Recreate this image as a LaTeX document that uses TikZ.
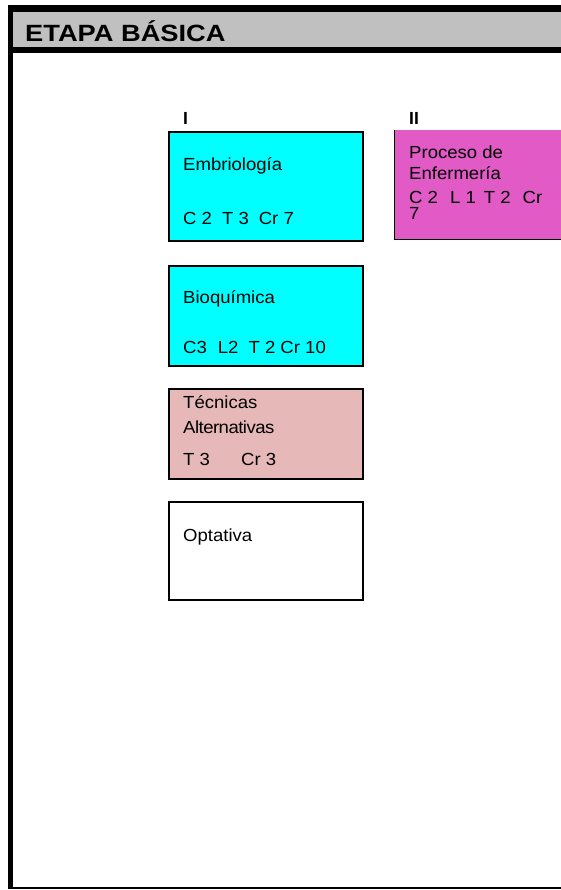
\documentclass[tikz,border=0pt]{standalone}
\usepackage{fontspec}
\setmainfont{Liberation Sans}
\usetikzlibrary{positioning}
\definecolor{cyanbox}{RGB}{0,255,255}
\definecolor{rosebox}{RGB}{230,184,183}
\definecolor{magbox}{RGB}{225,90,198}
\definecolor{headgray}{RGB}{192,192,192}
\tikzset{
  course/.style={draw=black,line width=2pt,inner sep=0pt,minimum width=194pt,anchor=north west},
  txt/.style={anchor=base west,inner sep=0pt,font=\fontsize{17.5}{20}\selectfont\addfontfeature{FakeStretch=1.06}},
  semester/.style={anchor=base west,inner sep=0pt,font=\fontsize{17.5}{20}\selectfont\bfseries}
}
\begin{document}
\begin{tikzpicture}[x=1pt,y=-1pt]
        \useasboundingbox[fill=white] (0,0) rectangle (561,890);
        % frame and heading
        \fill[black] (8,5) rectangle (561,53);
        \fill[headgray] (13,12) rectangle (561,47);
        \fill[black] (8,53) rectangle (13,888);
        \draw[line width=1.5pt] (8,888) -- (561,888);
        \node[anchor=base west,inner sep=0pt,font=\fontsize{23.5}{26}\selectfont\bfseries\addfontfeature{FakeStretch=1.16}] (title) at (25,42) {ETAPA BÁSICA};
        % semesters
        \node[semester] (semI) at (183,125) {I};
        \node[semester] (semII) at (409,125) {II};
        % first semester
        \node[course,fill=cyanbox,minimum height=109pt] (embrio) at (168,131) {};
        \node[txt] (embrioname) at (183,171) {Embriología};
        \node[txt] (embriocr) at (183,225) {C 2\hspace{10pt}T 3\hspace{10pt}Cr 7};
        \node[course,fill=cyanbox,minimum height=100pt] (bioq) at (168,265) {};
        \node[txt] (bioqname) at (183,303) {Bioquímica};
        \node[txt] (bioqcr) at (183,353) {C3\hspace{11pt}L2\hspace{10pt}T 2 Cr 10};
        \node[course,fill=rosebox,minimum height=90pt] (tecn) at (168,388) {};
        \node[txt] (tecnname) at (183,408) {Técnicas};
        \node[txt] (tecnname2) at (183,433) {\addfontfeature{LetterSpace=-3}Alternativas};
        \node[txt] (tecncr) at (183,465) {T 3};
        \node[txt] (tecncr2) at (241,465) {Cr 3};
        \node[course,fill=white,minimum height=98pt] (optat) at (168,501) {};
        \node[txt] (optatname) at (183,541) {Optativa};
        % second semester
        \fill[magbox] (394,130) rectangle (561,240);
        \draw[line width=1pt] (394,130) -- (394,240) -- (561,240);
        \node[txt] (procname) at (409,159) {Proceso de};
        \node[txt] (procname2) at (409,180) {Enfermería};
        \node[txt] (proccr) at (409,204) {C 2\hspace{12pt}L 1\hspace{8pt}T 2\hspace{12pt}Cr};
        \node[txt] (proccr2) at (409,220) {7};
\end{tikzpicture}
\end{document}
